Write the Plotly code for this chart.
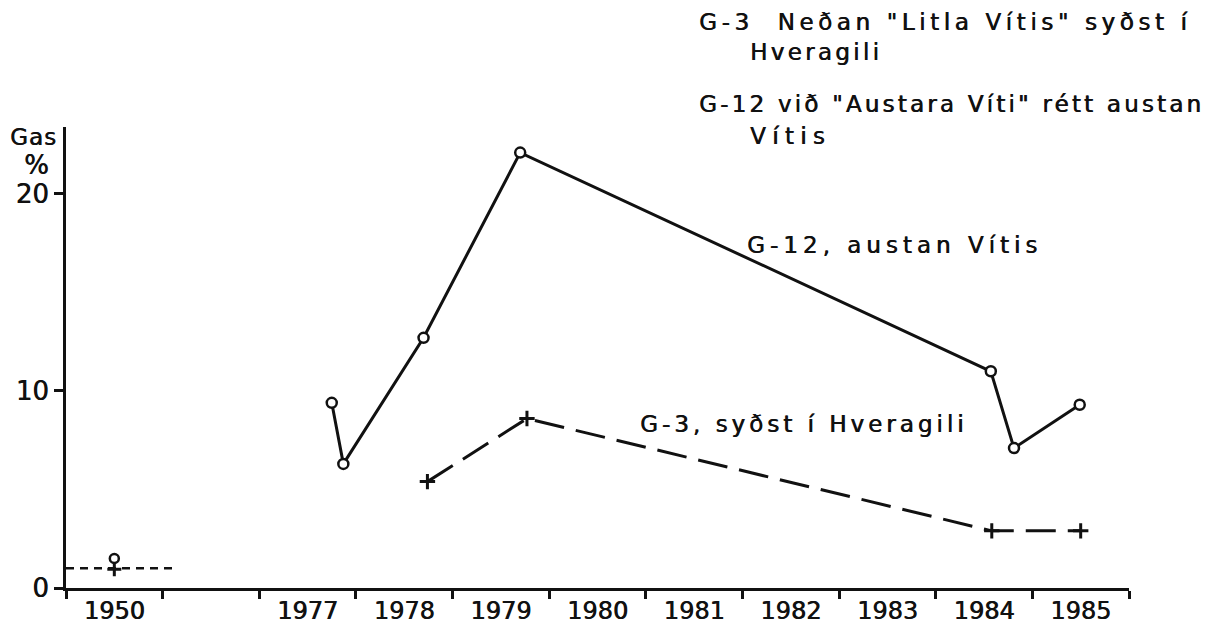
import plotly.graph_objects as go

# ---- data ----
year_labels = ["1950", "1977", "1978", "1979", "1980", "1981", "1982", "1983", "1984", "1985"]
label_years = [1950, 1977, 1978, 1979, 1980, 1981, 1982, 1983, 1984, 1985]

g12_dates = [1977.75, 1977.87, 1978.70, 1979.70, 1984.57, 1984.81, 1985.49]
g12_values = [9.4, 6.3, 12.7, 22.1, 11.0, 7.1, 9.3]

g3_dates = [1978.74, 1979.77, 1984.58, 1985.50]
g3_values = [5.4, 8.6, 2.9, 2.9]

early_date = [1950.5]
g12_early = [1.5]
g3_early = [0.95]
g3_early_level_dates = [1950.0, 1951.13]
g3_early_level = [1.0, 1.0]

y_ticks = [0, 10, 20]

legend_lines = [
    'G-3  Neðan "Litla Vítis" syðst í',
    'Hveragili',
    'G-12 við "Austara Víti" rétt austan',
    'Vítis',
]


def pos(d):
    # broken time axis: 1950 occupies slot 0, a gap slot, then 1977.. from slot 2
    return d - 1950 if d < 1960 else d - 1975


def spaced(t, px):
    return '<span style="letter-spacing:%spx">%s</span>' % (px, t)


FONT = "DejaVu Sans"
BLACK = "#111111"
SHADOW = "0.6px 0px 0px #111111"

fig = go.Figure()

fig.add_trace(go.Scatter(
    x=[pos(d) for d in g3_early_level_dates], y=g3_early_level, mode="lines",
    line=dict(color=BLACK, width=2.5, dash="8px,6px"), showlegend=False, hoverinfo="skip"))

fig.add_trace(go.Scatter(
    x=[pos(d) for d in g3_dates], y=g3_values, mode="lines+markers",
    line=dict(color=BLACK, width=3, dash="30px,12px"),
    marker=dict(symbol="cross-thin", size=11, line=dict(color=BLACK, width=3)),
    showlegend=False))

fig.add_trace(go.Scatter(
    x=[pos(d) for d in early_date], y=g3_early, mode="markers",
    marker=dict(symbol="cross-thin", size=10, line=dict(color=BLACK, width=3)),
    showlegend=False))

fig.add_trace(go.Scatter(
    x=[pos(d) for d in g12_dates], y=g12_values, mode="lines+markers",
    line=dict(color=BLACK, width=3),
    marker=dict(symbol="circle", size=10, color="white", line=dict(color=BLACK, width=2.5)),
    showlegend=False))

fig.add_trace(go.Scatter(
    x=[pos(d) for d in early_date], y=g12_early, mode="markers",
    marker=dict(symbol="circle", size=9, color="white", line=dict(color=BLACK, width=2.5)),
    showlegend=False))

label_font = dict(family=FONT, size=23, color=BLACK, shadow=SHADOW)

# in-plot labels
fig.add_annotation(x=pos(1982.03), y=17.4, xref="x", yref="y", text=spaced("G-12, austan Vítis", 5.0),
                   showarrow=False, xanchor="left", yanchor="middle", font=label_font)
fig.add_annotation(x=pos(1980.92), y=8.3, xref="x", yref="y", text=spaced("G-3, syðst í Hveragili", 4.0),
                   showarrow=False, xanchor="left", yanchor="middle", font=label_font)

# key text at top right
key_pos = [(0.5936, 1.228), (0.6416, 1.163), (0.5936, 1.050), (0.6416, 0.980)]
key_spacing = [4.6, 3.3, 3.2, 6.3]
for txt, (px, py), ls in zip(legend_lines, key_pos, key_spacing):
    fig.add_annotation(x=px, y=py, xref="paper", yref="paper", text=spaced(txt, ls), showarrow=False,
                       xanchor="left", yanchor="middle", font=label_font)

# y-axis title "Gas %"
fig.add_annotation(x=-0.031, y=0.978, xref="paper", yref="paper", text=spaced("Gas", 1),
                   showarrow=False, xanchor="center", yanchor="middle",
                   font=dict(family=FONT, size=23, color=BLACK, shadow=SHADOW))
fig.add_annotation(x=-0.028, y=0.918, xref="paper", yref="paper", text="%",
                   showarrow=False, xanchor="center", yanchor="middle",
                   font=dict(family=FONT, size=26, color=BLACK, shadow=SHADOW))

fig.update_xaxes(
    range=[0, 11], showgrid=False, zeroline=False, showline=True, linecolor=BLACK, linewidth=3,
    tickmode="array", tickvals=[pos(y) + 0.5 for y in label_years], ticktext=year_labels,
    ticks="", ticklabelstandoff=-1,
    tickfont=dict(family=FONT, size=24, color=BLACK, shadow=SHADOW),
    minor=dict(tickmode="array", tickvals=list(range(0, 12)), ticks="outside", ticklen=8,
               tickwidth=3, tickcolor=BLACK, showgrid=False),
    automargin=False, fixedrange=True)

fig.update_yaxes(
    range=[0, 23.4], showgrid=False, zeroline=False, showline=True, linecolor=BLACK, linewidth=3,
    tickmode="array", tickvals=y_ticks, ticktext=[str(v) for v in y_ticks],
    ticks="outside", ticklen=9, tickwidth=3, tickcolor=BLACK,
    tickfont=dict(family=FONT, size=26, color=BLACK, shadow=SHADOW),
    automargin=False, fixedrange=True)

# page body adds an 8px offset; margins compensate so the plot area lands where the reference has it
fig.update_layout(
    width=1221, height=623, margin=dict(l=58, r=100, t=119, b=43),
    paper_bgcolor="white", plot_bgcolor="white", showlegend=False)

fig.write_html("out.html")
